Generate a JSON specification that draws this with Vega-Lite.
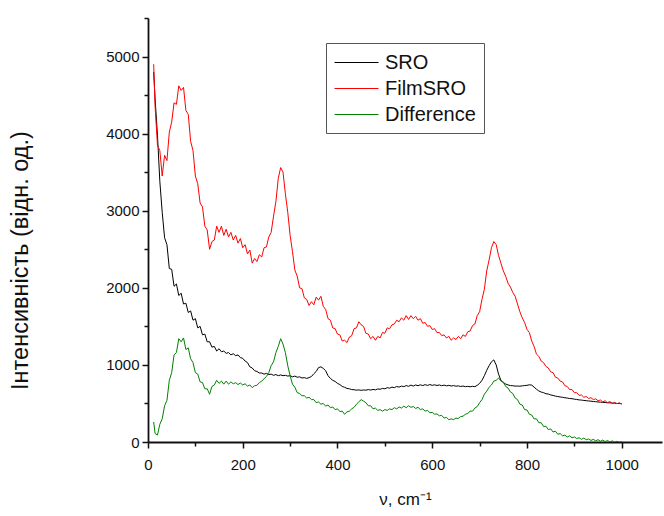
{
  "$schema": "https://vega.github.io/schema/vega-lite/v6.json",
  "autosize": "none",
  "width": 514,
  "height": 424,
  "padding": {"left": 148, "top": 18, "right": 2, "bottom": 74},
  "background": "white",
  "config": {
    "font": "Liberation Sans",
    "view": {"stroke": null}
  },
  "data": {
    "values": [
      {"x":12,"SRO":4800,"FilmSRO":4900,"Difference":260},
      {"x":15,"SRO":4450,"FilmSRO":4350,"Difference":110},
      {"x":20,"SRO":3980,"FilmSRO":3850,"Difference":90},
      {"x":25,"SRO":3380,"FilmSRO":3780,"Difference":230},
      {"x":30,"SRO":2980,"FilmSRO":3450,"Difference":300},
      {"x":35,"SRO":2650,"FilmSRO":3720,"Difference":470},
      {"x":40,"SRO":2560,"FilmSRO":3650,"Difference":540},
      {"x":45,"SRO":2250,"FilmSRO":4020,"Difference":800},
      {"x":50,"SRO":2240,"FilmSRO":4150,"Difference":900},
      {"x":55,"SRO":2020,"FilmSRO":4400,"Difference":1130},
      {"x":60,"SRO":2050,"FilmSRO":4380,"Difference":1160},
      {"x":65,"SRO":1900,"FilmSRO":4620,"Difference":1340},
      {"x":70,"SRO":1930,"FilmSRO":4560,"Difference":1300},
      {"x":75,"SRO":1790,"FilmSRO":4600,"Difference":1350},
      {"x":80,"SRO":1800,"FilmSRO":4300,"Difference":1200},
      {"x":85,"SRO":1680,"FilmSRO":4250,"Difference":1220},
      {"x":90,"SRO":1700,"FilmSRO":3900,"Difference":1080},
      {"x":95,"SRO":1580,"FilmSRO":3780,"Difference":1030},
      {"x":100,"SRO":1600,"FilmSRO":3450,"Difference":900},
      {"x":105,"SRO":1480,"FilmSRO":3350,"Difference":880},
      {"x":110,"SRO":1500,"FilmSRO":3100,"Difference":780},
      {"x":115,"SRO":1390,"FilmSRO":3050,"Difference":770},
      {"x":120,"SRO":1400,"FilmSRO":2800,"Difference":690},
      {"x":125,"SRO":1300,"FilmSRO":2750,"Difference":690},
      {"x":130,"SRO":1300,"FilmSRO":2500,"Difference":620},
      {"x":135,"SRO":1230,"FilmSRO":2600,"Difference":720},
      {"x":140,"SRO":1240,"FilmSRO":2620,"Difference":740},
      {"x":145,"SRO":1180,"FilmSRO":2800,"Difference":800},
      {"x":150,"SRO":1210,"FilmSRO":2720,"Difference":760},
      {"x":155,"SRO":1170,"FilmSRO":2800,"Difference":790},
      {"x":160,"SRO":1180,"FilmSRO":2680,"Difference":750},
      {"x":165,"SRO":1150,"FilmSRO":2760,"Difference":790},
      {"x":170,"SRO":1160,"FilmSRO":2660,"Difference":750},
      {"x":175,"SRO":1130,"FilmSRO":2720,"Difference":780},
      {"x":180,"SRO":1145,"FilmSRO":2620,"Difference":755},
      {"x":185,"SRO":1120,"FilmSRO":2680,"Difference":770},
      {"x":190,"SRO":1130,"FilmSRO":2580,"Difference":745},
      {"x":195,"SRO":1095,"FilmSRO":2640,"Difference":765},
      {"x":200,"SRO":1085,"FilmSRO":2520,"Difference":740},
      {"x":205,"SRO":1050,"FilmSRO":2560,"Difference":755},
      {"x":210,"SRO":1030,"FilmSRO":2440,"Difference":725},
      {"x":215,"SRO":975,"FilmSRO":2490,"Difference":740},
      {"x":220,"SRO":960,"FilmSRO":2320,"Difference":705},
      {"x":225,"SRO":925,"FilmSRO":2380,"Difference":730},
      {"x":230,"SRO":915,"FilmSRO":2340,"Difference":735},
      {"x":235,"SRO":895,"FilmSRO":2430,"Difference":770},
      {"x":240,"SRO":895,"FilmSRO":2400,"Difference":790},
      {"x":245,"SRO":880,"FilmSRO":2520,"Difference":820},
      {"x":250,"SRO":890,"FilmSRO":2530,"Difference":850},
      {"x":255,"SRO":875,"FilmSRO":2660,"Difference":900},
      {"x":260,"SRO":880,"FilmSRO":2720,"Difference":990},
      {"x":265,"SRO":865,"FilmSRO":2930,"Difference":1040},
      {"x":270,"SRO":875,"FilmSRO":3120,"Difference":1160},
      {"x":275,"SRO":860,"FilmSRO":3420,"Difference":1240},
      {"x":280,"SRO":870,"FilmSRO":3560,"Difference":1340},
      {"x":285,"SRO":860,"FilmSRO":3500,"Difference":1270},
      {"x":290,"SRO":865,"FilmSRO":3220,"Difference":1160},
      {"x":295,"SRO":855,"FilmSRO":2980,"Difference":990},
      {"x":300,"SRO":860,"FilmSRO":2680,"Difference":860},
      {"x":305,"SRO":845,"FilmSRO":2470,"Difference":750},
      {"x":310,"SRO":855,"FilmSRO":2230,"Difference":710},
      {"x":315,"SRO":840,"FilmSRO":2150,"Difference":640},
      {"x":320,"SRO":845,"FilmSRO":2000,"Difference":630},
      {"x":325,"SRO":830,"FilmSRO":1990,"Difference":600},
      {"x":330,"SRO":835,"FilmSRO":1870,"Difference":600},
      {"x":335,"SRO":825,"FilmSRO":1850,"Difference":570},
      {"x":340,"SRO":835,"FilmSRO":1770,"Difference":580},
      {"x":345,"SRO":850,"FilmSRO":1820,"Difference":550},
      {"x":350,"SRO":885,"FilmSRO":1780,"Difference":550},
      {"x":355,"SRO":915,"FilmSRO":1880,"Difference":510},
      {"x":360,"SRO":965,"FilmSRO":1840,"Difference":520},
      {"x":365,"SRO":975,"FilmSRO":1890,"Difference":490},
      {"x":370,"SRO":955,"FilmSRO":1760,"Difference":500},
      {"x":375,"SRO":925,"FilmSRO":1720,"Difference":465},
      {"x":380,"SRO":860,"FilmSRO":1600,"Difference":480},
      {"x":385,"SRO":825,"FilmSRO":1580,"Difference":445},
      {"x":390,"SRO":800,"FilmSRO":1480,"Difference":455},
      {"x":395,"SRO":785,"FilmSRO":1470,"Difference":420},
      {"x":400,"SRO":760,"FilmSRO":1400,"Difference":430},
      {"x":405,"SRO":745,"FilmSRO":1390,"Difference":395},
      {"x":410,"SRO":720,"FilmSRO":1310,"Difference":400},
      {"x":415,"SRO":710,"FilmSRO":1320,"Difference":360},
      {"x":420,"SRO":695,"FilmSRO":1290,"Difference":390},
      {"x":425,"SRO":690,"FilmSRO":1360,"Difference":400},
      {"x":430,"SRO":680,"FilmSRO":1380,"Difference":430},
      {"x":435,"SRO":678,"FilmSRO":1470,"Difference":450},
      {"x":440,"SRO":672,"FilmSRO":1480,"Difference":490},
      {"x":445,"SRO":676,"FilmSRO":1560,"Difference":520},
      {"x":450,"SRO":670,"FilmSRO":1520,"Difference":550},
      {"x":455,"SRO":675,"FilmSRO":1500,"Difference":530},
      {"x":460,"SRO":672,"FilmSRO":1410,"Difference":510},
      {"x":465,"SRO":680,"FilmSRO":1400,"Difference":470},
      {"x":470,"SRO":674,"FilmSRO":1340,"Difference":470},
      {"x":475,"SRO":682,"FilmSRO":1370,"Difference":430},
      {"x":480,"SRO":676,"FilmSRO":1320,"Difference":440},
      {"x":485,"SRO":688,"FilmSRO":1370,"Difference":410},
      {"x":490,"SRO":684,"FilmSRO":1350,"Difference":420},
      {"x":495,"SRO":695,"FilmSRO":1420,"Difference":400},
      {"x":500,"SRO":690,"FilmSRO":1410,"Difference":420},
      {"x":505,"SRO":705,"FilmSRO":1480,"Difference":410},
      {"x":510,"SRO":698,"FilmSRO":1470,"Difference":430},
      {"x":515,"SRO":712,"FilmSRO":1520,"Difference":420},
      {"x":520,"SRO":705,"FilmSRO":1530,"Difference":445},
      {"x":525,"SRO":720,"FilmSRO":1580,"Difference":430},
      {"x":530,"SRO":712,"FilmSRO":1560,"Difference":455},
      {"x":535,"SRO":725,"FilmSRO":1610,"Difference":440},
      {"x":540,"SRO":718,"FilmSRO":1580,"Difference":465},
      {"x":545,"SRO":732,"FilmSRO":1640,"Difference":445},
      {"x":550,"SRO":722,"FilmSRO":1590,"Difference":470},
      {"x":555,"SRO":738,"FilmSRO":1640,"Difference":450},
      {"x":560,"SRO":726,"FilmSRO":1600,"Difference":460},
      {"x":565,"SRO":740,"FilmSRO":1630,"Difference":435},
      {"x":570,"SRO":730,"FilmSRO":1580,"Difference":450},
      {"x":575,"SRO":742,"FilmSRO":1600,"Difference":420},
      {"x":580,"SRO":732,"FilmSRO":1540,"Difference":430},
      {"x":585,"SRO":744,"FilmSRO":1550,"Difference":400},
      {"x":590,"SRO":734,"FilmSRO":1500,"Difference":410},
      {"x":595,"SRO":745,"FilmSRO":1510,"Difference":380},
      {"x":600,"SRO":735,"FilmSRO":1460,"Difference":385},
      {"x":605,"SRO":742,"FilmSRO":1470,"Difference":360},
      {"x":610,"SRO":733,"FilmSRO":1420,"Difference":365},
      {"x":615,"SRO":740,"FilmSRO":1420,"Difference":340},
      {"x":620,"SRO":730,"FilmSRO":1380,"Difference":345},
      {"x":625,"SRO":738,"FilmSRO":1390,"Difference":310},
      {"x":630,"SRO":728,"FilmSRO":1350,"Difference":320},
      {"x":635,"SRO":735,"FilmSRO":1370,"Difference":290},
      {"x":640,"SRO":726,"FilmSRO":1320,"Difference":300},
      {"x":645,"SRO":732,"FilmSRO":1350,"Difference":290},
      {"x":650,"SRO":724,"FilmSRO":1330,"Difference":310},
      {"x":655,"SRO":728,"FilmSRO":1370,"Difference":305},
      {"x":660,"SRO":720,"FilmSRO":1340,"Difference":330},
      {"x":665,"SRO":726,"FilmSRO":1390,"Difference":335},
      {"x":670,"SRO":718,"FilmSRO":1370,"Difference":360},
      {"x":675,"SRO":722,"FilmSRO":1430,"Difference":370},
      {"x":680,"SRO":716,"FilmSRO":1440,"Difference":400},
      {"x":685,"SRO":722,"FilmSRO":1510,"Difference":400},
      {"x":690,"SRO":718,"FilmSRO":1530,"Difference":440},
      {"x":695,"SRO":735,"FilmSRO":1640,"Difference":460},
      {"x":700,"SRO":760,"FilmSRO":1690,"Difference":510},
      {"x":705,"SRO":800,"FilmSRO":1850,"Difference":550},
      {"x":710,"SRO":860,"FilmSRO":1980,"Difference":620},
      {"x":715,"SRO":930,"FilmSRO":2220,"Difference":660},
      {"x":720,"SRO":990,"FilmSRO":2360,"Difference":710},
      {"x":725,"SRO":1040,"FilmSRO":2520,"Difference":740},
      {"x":730,"SRO":1065,"FilmSRO":2600,"Difference":790},
      {"x":735,"SRO":1000,"FilmSRO":2560,"Difference":800},
      {"x":740,"SRO":880,"FilmSRO":2420,"Difference":830},
      {"x":745,"SRO":800,"FilmSRO":2320,"Difference":790},
      {"x":750,"SRO":770,"FilmSRO":2220,"Difference":780},
      {"x":755,"SRO":752,"FilmSRO":2150,"Difference":720},
      {"x":760,"SRO":740,"FilmSRO":2060,"Difference":700},
      {"x":765,"SRO":732,"FilmSRO":2010,"Difference":650},
      {"x":770,"SRO":730,"FilmSRO":1940,"Difference":630},
      {"x":775,"SRO":725,"FilmSRO":1890,"Difference":570},
      {"x":780,"SRO":726,"FilmSRO":1790,"Difference":550},
      {"x":785,"SRO":724,"FilmSRO":1690,"Difference":490},
      {"x":790,"SRO":728,"FilmSRO":1610,"Difference":480},
      {"x":795,"SRO":732,"FilmSRO":1550,"Difference":420},
      {"x":800,"SRO":735,"FilmSRO":1460,"Difference":415},
      {"x":805,"SRO":742,"FilmSRO":1420,"Difference":360},
      {"x":810,"SRO":738,"FilmSRO":1310,"Difference":350},
      {"x":815,"SRO":712,"FilmSRO":1240,"Difference":300},
      {"x":820,"SRO":685,"FilmSRO":1140,"Difference":300},
      {"x":825,"SRO":662,"FilmSRO":1110,"Difference":250},
      {"x":830,"SRO":648,"FilmSRO":1050,"Difference":250},
      {"x":835,"SRO":640,"FilmSRO":1030,"Difference":200},
      {"x":840,"SRO":626,"FilmSRO":980,"Difference":205},
      {"x":845,"SRO":622,"FilmSRO":960,"Difference":160},
      {"x":850,"SRO":610,"FilmSRO":910,"Difference":170},
      {"x":855,"SRO":604,"FilmSRO":900,"Difference":130},
      {"x":860,"SRO":595,"FilmSRO":840,"Difference":140},
      {"x":865,"SRO":590,"FilmSRO":830,"Difference":100},
      {"x":870,"SRO":584,"FilmSRO":790,"Difference":110},
      {"x":875,"SRO":580,"FilmSRO":780,"Difference":80},
      {"x":880,"SRO":574,"FilmSRO":730,"Difference":90},
      {"x":885,"SRO":570,"FilmSRO":720,"Difference":65},
      {"x":890,"SRO":564,"FilmSRO":680,"Difference":80},
      {"x":895,"SRO":562,"FilmSRO":680,"Difference":55},
      {"x":900,"SRO":555,"FilmSRO":640,"Difference":65},
      {"x":905,"SRO":552,"FilmSRO":640,"Difference":45},
      {"x":910,"SRO":546,"FilmSRO":605,"Difference":55},
      {"x":915,"SRO":544,"FilmSRO":610,"Difference":35},
      {"x":920,"SRO":539,"FilmSRO":580,"Difference":50},
      {"x":925,"SRO":536,"FilmSRO":590,"Difference":30},
      {"x":930,"SRO":532,"FilmSRO":565,"Difference":40},
      {"x":935,"SRO":530,"FilmSRO":575,"Difference":20},
      {"x":940,"SRO":525,"FilmSRO":550,"Difference":35},
      {"x":945,"SRO":523,"FilmSRO":560,"Difference":15},
      {"x":950,"SRO":519,"FilmSRO":535,"Difference":30},
      {"x":955,"SRO":517,"FilmSRO":545,"Difference":10},
      {"x":960,"SRO":514,"FilmSRO":520,"Difference":25},
      {"x":965,"SRO":512,"FilmSRO":535,"Difference":5},
      {"x":970,"SRO":509,"FilmSRO":510,"Difference":20},
      {"x":975,"SRO":508,"FilmSRO":525,"Difference":0},
      {"x":980,"SRO":505,"FilmSRO":500,"Difference":15},
      {"x":985,"SRO":503,"FilmSRO":515,"Difference":-5},
      {"x":990,"SRO":500,"FilmSRO":495,"Difference":10},
      {"x":995,"SRO":499,"FilmSRO":510,"Difference":-5},
      {"x":1000,"SRO":497,"FilmSRO":490,"Difference":5}
    ]
  },
  "transform": [
    {"fold": ["SRO", "FilmSRO", "Difference"], "as": ["series", "intensity"]}
  ],
  "mark": {"type": "line", "strokeWidth": 1, "interpolate": "linear", "clip": true},
  "encoding": {
    "x": {
      "field": "x",
      "type": "quantitative",
      "scale": {"domain": [0, 1085], "nice": false, "zero": false},
      "axis": {
        "title": "ν, cm⁻¹",
        "titleFont": "Liberation Sans",
        "titleFontSize": 17,
        "titleFontWeight": "normal",
        "titleColor": "#111",
        "titlePadding": 19,
        "values": [0,100,200,300,400,500,600,700,800,900,1000],
        "labelExpr": "datum.value % 200 === 0 ? datum.label : ''",
        "labelFont": "Liberation Sans",
        "labelFontSize": 15,
        "labelColor": "#111",
        "labelPadding": 9,
        "labelFlush": false,
        "labelOverlap": false,
        "tickSize": {"condition": {"test": "datum.value % 200 === 0", "value": 6}, "value": 4},
        "tickColor": "#111",
        "tickWidth": 1.5,
        "domainColor": "#111",
        "domainWidth": 1.8,
        "grid": false,
        "format": "d"
      }
    },
    "y": {
      "field": "intensity",
      "type": "quantitative",
      "scale": {"domain": [0, 5500], "nice": false},
      "axis": {
        "title": "Інтенсивність (відн. од.)",
        "titleFont": "Liberation Sans",
        "titleFontSize": 23.5,
        "titleFontWeight": "normal",
        "titleColor": "#111",
        "titlePadding": 73,
        "titleY": 242,
        "values": [0,500,1000,1500,2000,2500,3000,3500,4000,4500,5000,5500],
        "labelExpr": "datum.value % 1000 === 0 ? datum.label : ''",
        "labelFont": "Liberation Sans",
        "labelFontSize": 15,
        "labelColor": "#111",
        "labelPadding": 3,
        "labelOverlap": false,
        "labelFlush": false,
        "tickSize": {"condition": {"test": "datum.value % 1000 === 0", "value": 6}, "value": 4},
        "tickColor": "#111",
        "tickWidth": 1.5,
        "domainColor": "#111",
        "domainWidth": 1.8,
        "grid": false,
        "format": "d"
      }
    },
    "color": {
      "field": "series",
      "type": "nominal",
      "scale": {"domain": ["SRO", "FilmSRO", "Difference"], "range": ["#000000", "#ff0000", "#008000"]},
      "legend": {
        "title": null,
        "orient": "none",
        "legendX": 178,
        "legendY": 25,
        "symbolType": "M-1,0H3",
        "symbolSize": 484,
        "symbolStrokeWidth": 1,
        "labelFont": "Liberation Sans",
        "labelFontSize": 20,
        "labelColor": "#111",
        "labelOffset": 28,
        "rowPadding": 4,
        "padding": 8,
        "strokeColor": "#555",
        "fillColor": "white"
      }
    }
  }
}
